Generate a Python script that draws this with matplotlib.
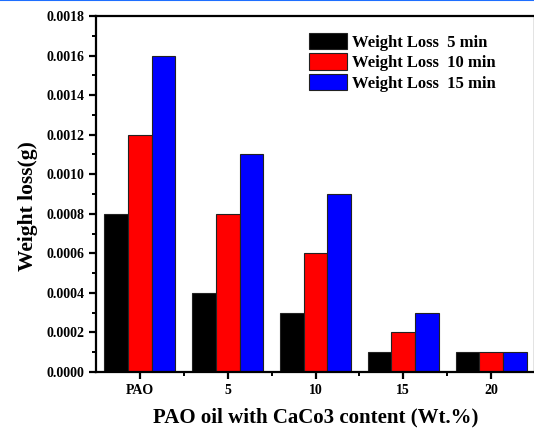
import matplotlib
matplotlib.use("Agg")
import matplotlib.pyplot as plt
import numpy as np
from matplotlib.ticker import MultipleLocator, FormatStrFormatter
from matplotlib.lines import Line2D

categories = ["PAO", "5", "10", "15", "20"]
loss_5 = [0.0008, 0.0004, 0.0003, 0.0001, 0.0001]
loss_10 = [0.0012, 0.0008, 0.0006, 0.0002, 0.0001]
loss_15 = [0.0016, 0.0011, 0.0009, 0.0003, 0.0001]
labels = ["Weight Loss  5 min", "Weight Loss  10 min", "Weight Loss  15 min"]
colors = ["#000000", "#ff0000", "#0000ff"]

plt.rcParams['font.family'] = ['Liberation Serif', 'DejaVu Serif']
plt.rcParams['font.weight'] = 'bold'

fig = plt.figure(figsize=(5.34, 4.32), dpi=100)
ax = fig.add_axes([96/534, 60/432, 439/534, 356/432])

x = np.arange(len(categories))
w = 0.27
for i, (vals, lab, c) in enumerate(zip([loss_5, loss_10, loss_15], labels, colors)):
    ax.bar(x + (i - 1) * w, vals, width=w, color=c, edgecolor="#222222",
           linewidth=0.8, label=lab)

ax.set_xlim(-0.5, 4.5)
ax.set_ylim(0, 0.0018)
ax.set_xticks(x)
ax.set_xticklabels(categories)
ax.set_xticks(x[:-1] + 0.5, minor=True)
ax.yaxis.set_major_locator(MultipleLocator(0.0002))
ax.yaxis.set_minor_locator(MultipleLocator(0.0001))
ax.yaxis.set_major_formatter(FormatStrFormatter('%.4f'))

for s in ax.spines.values():
    s.set_linewidth(1.6)
ax.tick_params(axis='both', which='major', direction='out', length=5, width=1.6,
               labelsize=10)
ax.tick_params(axis='both', which='minor', direction='out', length=3, width=1.4)
for t in ax.get_xticklabels() + ax.get_yticklabels():
    t.set_fontweight('bold')

ax.set_ylabel("Weight loss(g)", fontsize=15.5, fontweight='bold')
ax.yaxis.set_label_coords(-0.132, 0.466)
ax.set_xlabel("PAO oil with CaCo3 content (Wt.%)", fontsize=15, fontweight='bold',
              labelpad=8)

leg = ax.legend(loc='upper left', bbox_to_anchor=(0.47, 0.971), frameon=False,
                prop={'family': 'Liberation Serif', 'weight': 'bold', 'size': 12},
                handlelength=2.3, handleheight=1.14, handletextpad=0.3,
                labelspacing=0.15, borderaxespad=0.0)

fig.add_artist(Line2D([0, 1], [0.999, 0.999], transform=fig.transFigure,
                      color="#1e6fff", linewidth=1.5))

fig.savefig("out.png", dpi=100)
